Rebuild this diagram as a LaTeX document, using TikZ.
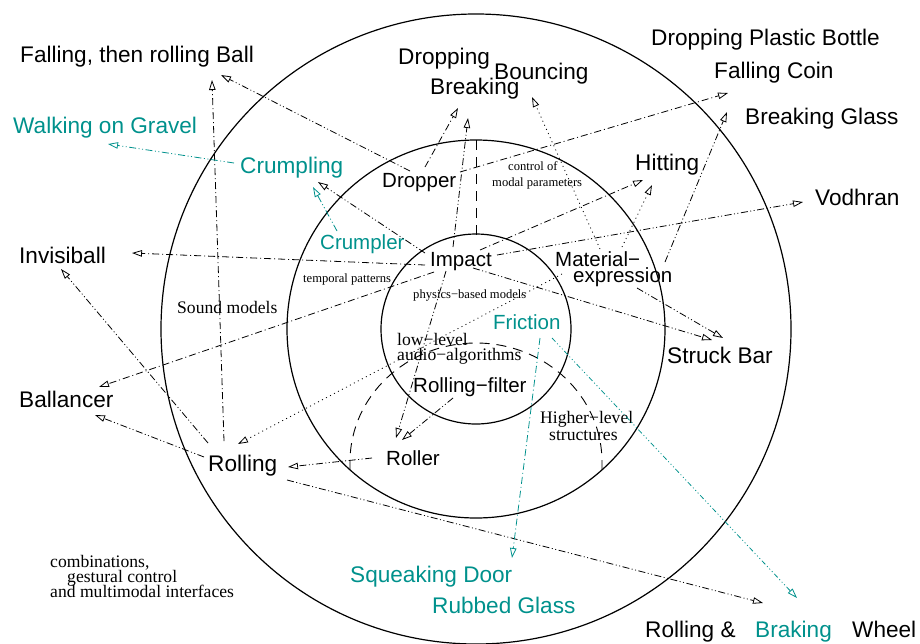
\documentclass[tikz,border=0pt]{standalone}
\usepackage{fontspec}
\setmainfont{Liberation Serif}
\newfontfamily\sansf{Liberation Sans}
\usetikzlibrary{arrows.meta}
\definecolor{tealc}{RGB}{0,145,140}
\begin{document}
\begin{tikzpicture}[x=1pt,y=-1pt,
  big/.style={font=\sansf\fontsize{22.6}{24}\selectfont, inner sep=0pt, anchor=base west},
  med/.style={font=\sansf\fontsize{20.5}{22}\selectfont, inner sep=0pt, anchor=base west},
  mid/.style={font=\fontsize{17.6}{18}\selectfont, inner sep=0pt, anchor=base west},
  sml/.style={font=\fontsize{12.6}{14}\selectfont, inner sep=0pt, anchor=base west},
  ring/.style={draw=black, line width=1.2pt},
  conn/.style={line width=0.8pt, -{Triangle[open,length=10pt,width=6.5pt]}},
  ddot/.style={conn, dash pattern=on 7pt off 2.5pt on 1pt off 2.5pt on 1pt off 2.5pt},
  dsdot/.style={conn, dash pattern=on 7pt off 3pt on 1pt off 3pt},
  dots/.style={conn, dash pattern=on 1pt off 3.5pt},
  sector/.style={line width=0.9pt, dash pattern=on 10pt off 7pt},
  tl/.style={text=tealc}
]
\useasboundingbox (0,0) rectangle (920,643);

% rings
\draw[ring] (476,329) circle[radius=95];
\draw[ring] (476,329) circle[radius=189];
\draw[ring] (476,329) circle[radius=315];

% sector boundaries
\draw[sector] (476,140) -- (476,235);
\draw[sector] (350,470) -- (350,462) arc[start angle=180, end angle=360, x radius=126, y radius=119] -- (602,470);

% outer labels
\node[big] (fallball) at (20,62) {Falling, then rolling Ball};
\node[big,tl] (walking) at (13,133) {Walking on Gravel};
\node[big,tl] (crumpling) at (240,173) {Crumpling};
\node[big] (dropping) at (398,64) {Dropping};
\node[big] (breaking) at (430,94) {Breaking};
\node[big] (bouncing) at (494,79) {Bouncing};
\node[big] (bottle) at (651,45) {Dropping Plastic Bottle};
\node[big] (coin) at (714,78) {Falling Coin};
\node[big] (glass) at (745,124) {Breaking Glass};
\node[big] (hitting) at (635,170) {Hitting};
\node[big] (vodhran) at (815,205) {Vodhran};
\node[big] (invisiball) at (19,263) {Invisiball};
\node[big] (ballancer) at (19,407) {Ballancer};
\node[big] (rolling) at (208,471) {Rolling};
\node[big] (struckbar) at (667,363) {Struck Bar};
\node[big,tl] (door) at (350,582) {Squeaking Door};
\node[big,tl] (rubbed) at (432,613) {Rubbed Glass};
\node[big] (wheel1) at (645,637) {Rolling \&};
\node[big,tl] (braking) at (755,637) {Braking};
\node[big] (wheel2) at (852,637) {Wheel};

% middle ring labels
\node[med] (dropper) at (382,187) {Dropper};
\node[med,tl] (crumpler) at (320,249) {Crumpler};
\node[med] (impact) at (430,266) {Impact};
\node[med] (material) at (555,266) {Material−};
\node[med] (expression) at (573,282) {expression};
\node[med,tl] (friction) at (493,329) {Friction};
\node[med] (filter) at (413,392) {Rolling−filter};
\node[med] (roller) at (386,465) {Roller};

% annotations
\node[sml] (ctl1) at (508,170) {control of};
\node[sml] (ctl2) at (492,186) {modal parameters};
\node[sml] (temporal) at (303,282) {temporal patterns};
\node[sml] (physics) at (413,298) {physics−based models};
\node[mid] (sound) at (177,313) {Sound models};
\node[mid] (low1) at (397,345) {low−level};
\node[mid] (low2) at (397,360) {audio−algorithms};
\node[mid] (high1) at (540,423) {Higher−level};
\node[mid] (high2) at (549,440) {structures};
\node[mid] (comb1) at (50,567) {combinations,};
\node[mid] (comb2) at (67,582) {gestural control};
\node[mid] (comb3) at (50,597) {and multimodal interfaces};

% connector ends
\coordinate (rollN) at (224,441);
\coordinate (fallS) at (212,80);
\coordinate (dropperNW) at (410,171);
\coordinate (fallSE) at (221,75);
\coordinate (crumplingW) at (234,163);
\coordinate (walkingSE) at (108,144);
\coordinate (crumplerN) at (337,231);
\coordinate (crumplingS) at (313,187);
\coordinate (impactNW) at (425,253);
\coordinate (crumplingSE) at (318,182);
\coordinate (impactW) at (425,265);
\coordinate (invisE) at (132,253);
\coordinate (impactSW) at (434,272);
\coordinate (ballNE) at (99,387);
\coordinate (rollNW) at (208,443);
\coordinate (invisS) at (61,269);
\coordinate (rollW) at (204,457);
\coordinate (ballSE) at (95,415);
\coordinate (matW) at (562,274);
\coordinate (rollNE) at (238,444);
\coordinate (impactS) at (446,271);
\coordinate (rollerN) at (396,438);
\coordinate (impactN) at (453,247);
\coordinate (breakS) at (468,118);
\coordinate (dropperN) at (425,167);
\coordinate (breakSW) at (458,108);
\coordinate (matN) at (600,249);
\coordinate (bounceS) at (532,97);
\coordinate (impactNE) at (480,250);
\coordinate (hitSW) at (643,180);
\coordinate (matNE) at (622,247);
\coordinate (hitS) at (652,185);
\coordinate (impactE) at (497,255);
\coordinate (vodW) at (803,202);
\coordinate (matE) at (665,262);
\coordinate (glassSW) at (727,112);
\coordinate (dropperE) at (460,172);
\coordinate (coinSW) at (728,93);
\coordinate (impactSE) at (473,268);
\coordinate (barNW) at (712,340);
\coordinate (matS) at (637,288);
\coordinate (barN) at (723,338);
\coordinate (filterS) at (453,398);
\coordinate (rollerNE) at (402,440);
\coordinate (rollerW) at (372,458);
\coordinate (rollE) at (288,467);
\coordinate (rollSE) at (287,480);
\coordinate (wheelNW) at (763,603);
\coordinate (fricS) at (540,338);
\coordinate (doorN) at (512,558);
\coordinate (fricSE) at (552,338);
\coordinate (brakN) at (797,598);

% connectors
\draw[dsdot] (rollN) -- (fallS);
\draw[ddot] (dropperNW) -- (fallSE);
\draw[ddot,tealc] (crumplingW) -- (walkingSE);
\draw[ddot,tealc] (crumplerN) -- (crumplingS);
\draw[ddot] (impactNW) -- (crumplingSE);
\draw[dsdot] (impactW) -- (invisE);
\draw[dsdot] (impactSW) -- (ballNE);
\draw[ddot] (rollNW) -- (invisS);
\draw[ddot] (rollW) -- (ballSE);
\draw[dots] (matW) -- (rollNE);
\draw[ddot] (impactS) -- (rollerN);
\draw[ddot] (impactN) -- (breakS);
\draw[dsdot] (dropperN) -- (breakSW);
\draw[dots] (matN) -- (bounceS);
\draw[dsdot] (impactNE) -- (hitSW);
\draw[dots] (matNE) -- (hitS);
\draw[ddot] (impactE) -- (vodW);
\draw[ddot] (matE) -- (glassSW);
\draw[dsdot] (dropperE) -- (coinSW);
\draw[ddot] (impactSE) -- (barNW);
\draw[ddot] (matS) -- (barN);
\draw[ddot] (filterS) -- (rollerNE);
\draw[ddot] (rollerW) -- (rollE);
\draw[ddot] (rollSE) -- (wheelNW);
\draw[dsdot,tealc] (fricS) -- (doorN);
\draw[ddot,tealc, dash pattern=on 5pt off 2.5pt on 1pt off 2.5pt on 1pt off 2.5pt on 1pt off 2.5pt] (fricSE) -- (brakN);
\end{tikzpicture}
\end{document}
